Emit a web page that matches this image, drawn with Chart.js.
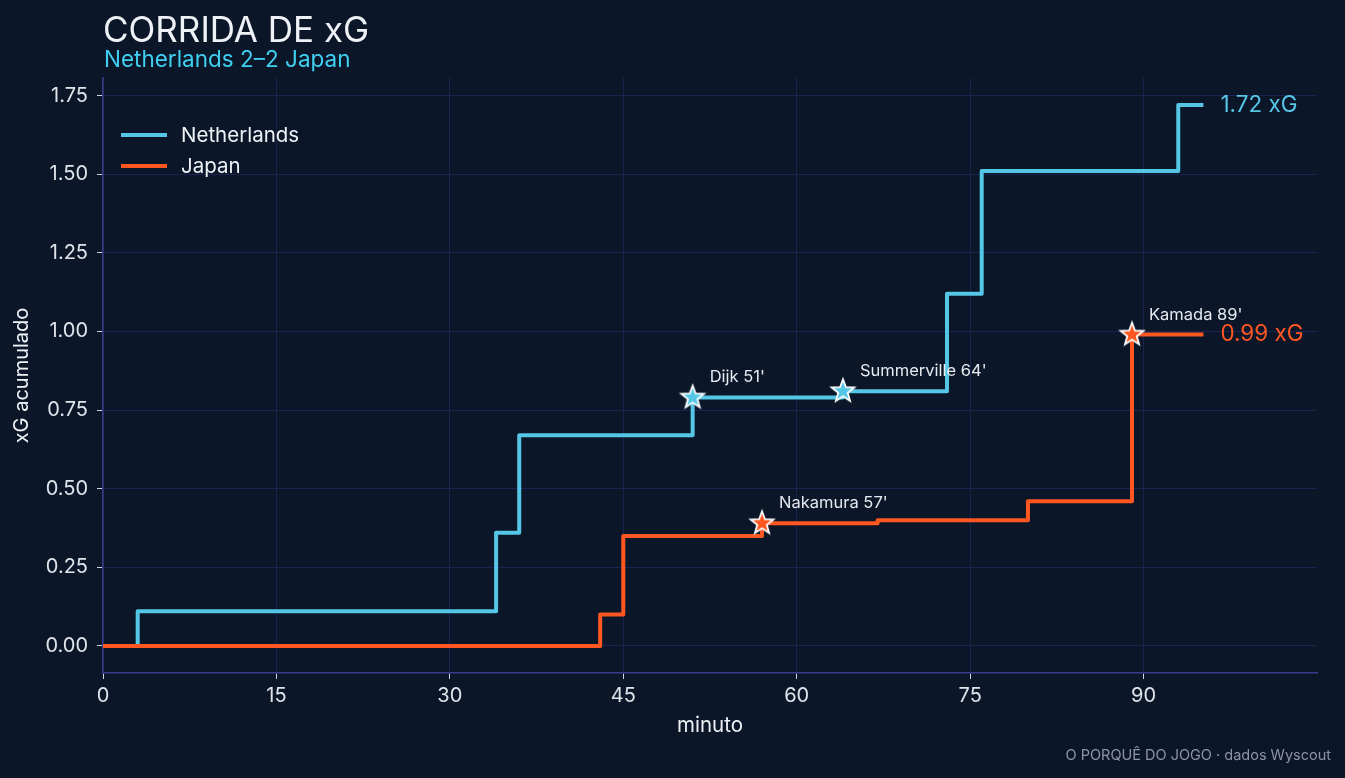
<!DOCTYPE html>
<html>
<head>
<meta charset="utf-8">
<title>Corrida de xG</title>
<script src="https://cdn.jsdelivr.net/npm/chart.js@4.4.1/dist/chart.umd.min.js"></script>
<style>
  html, body { margin: 0; padding: 0; background: #0b1628; }
  canvas { display: block; }
</style>
</head>
<body>
<canvas id="xgChart" width="1345" height="778"></canvas>
<script>
// dados do jogo
var minutosNL = [0, 3, 34, 36, 51, 64, 73, 76, 93, 95];
var xgNL = [0, 0.11, 0.36, 0.67, 0.79, 0.81, 1.12, 1.51, 1.72, 1.72];
var minutosJP = [0, 43, 45, 57, 67, 80, 89, 95];
var xgJP = [0, 0.10, 0.35, 0.39, 0.40, 0.46, 0.99, 0.99];

// golos
var golosNLmin = [51, 64];
var golosNLxg = [0.79, 0.81];
var golosNLnome = ["Dijk 51'", "Summerville 64'"];
var golosJPmin = [57, 89];
var golosJPxg = [0.39, 0.99];
var golosJPnome = ["Nakamura 57'", "Kamada 89'"];

var xTicks = [0, 15, 30, 45, 60, 75, 90];
var yTicks = [0, 0.25, 0.5, 0.75, 1.0, 1.25, 1.5, 1.75];

var AZUL = '#55c6e6';
var LARANJA = '#ff5722';
var FONTE = 'Inter, "Noto Sans", sans-serif';

function pontos(xs, ys) {
  return xs.map(function (x, i) { return { x: x, y: ys[i] }; });
}

// estrela preenchida para os golos
function estrela(cor) {
  var c = document.createElement('canvas');
  c.width = 30; c.height = 30;
  var g = c.getContext('2d');
  g.beginPath();
  for (var i = 0; i < 10; i++) {
    var r = i % 2 === 0 ? 12 : 5;
    var a = -Math.PI / 2 + i * Math.PI / 5;
    g.lineTo(15 + r * Math.cos(a), 15 + r * Math.sin(a));
  }
  g.closePath();
  g.fillStyle = cor;
  g.fill();
  g.lineWidth = 1.8;
  g.strokeStyle = '#ffffff';
  g.stroke();
  return c;
}

var textos = {
  id: 'textos',
  beforeDraw: function (chart) {
    var ctx = chart.ctx;
    ctx.save();
    ctx.fillStyle = '#0b1628';
    ctx.fillRect(0, 0, chart.width, chart.height);
    ctx.restore();
  },
  afterDraw: function (chart) {
    var ctx = chart.ctx;
    var sx = chart.scales.x, sy = chart.scales.y;
    ctx.save();
    // titulo
    ctx.textBaseline = 'alphabetic';
    ctx.textAlign = 'left';
    ctx.fillStyle = '#eef1f6';
    ctx.font = '35px ' + FONTE;
    ctx.fillText('CORRIDA DE xG', 103, 42);
    ctx.fillStyle = '#3fd0f2';
    ctx.font = '22.5px ' + FONTE;
    ctx.fillText('Netherlands 2\u20132 Japan', 104, 67);

    // legenda
    ctx.lineWidth = 4;
    ctx.strokeStyle = AZUL;
    ctx.beginPath(); ctx.moveTo(121, 135); ctx.lineTo(167, 135); ctx.stroke();
    ctx.strokeStyle = LARANJA;
    ctx.beginPath(); ctx.moveTo(121, 166); ctx.lineTo(167, 166); ctx.stroke();
    ctx.fillStyle = '#eef1f6';
    ctx.font = '20.5px ' + FONTE;
    ctx.textBaseline = 'middle';
    ctx.fillText('Netherlands', 181, 136);
    ctx.fillText('Japan', 181, 167);

    // nomes dos marcadores
    ctx.font = '16.5px ' + FONTE;
    ctx.fillStyle = '#e6e9ef';
    golosNLmin.forEach(function (m, i) {
      ctx.fillText(golosNLnome[i], sx.getPixelForValue(m) + 17, sy.getPixelForValue(golosNLxg[i]) - 20);
    });
    golosJPmin.forEach(function (m, i) {
      ctx.fillText(golosJPnome[i], sx.getPixelForValue(m) + 17, sy.getPixelForValue(golosJPxg[i]) - 20);
    });

    // valores finais
    ctx.font = '22.5px ' + FONTE;
    var ultNL = minutosNL.length - 1, ultJP = minutosJP.length - 1;
    ctx.fillStyle = AZUL;
    ctx.fillText(xgNL[ultNL].toFixed(2) + ' xG', sx.getPixelForValue(minutosNL[ultNL]) + 19, sy.getPixelForValue(xgNL[ultNL]));
    ctx.fillStyle = LARANJA;
    ctx.fillText(xgJP[ultJP].toFixed(2) + ' xG', sx.getPixelForValue(minutosJP[ultJP]) + 19, sy.getPixelForValue(xgJP[ultJP]));

    // rodape
    ctx.font = '14.5px ' + FONTE;
    ctx.fillStyle = '#8c94a6';
    ctx.textAlign = 'right';
    ctx.fillText('O PORQU\u00ca DO JOGO \u00b7 dados Wyscout', 1331, 756);
    ctx.restore();
  }
};

var ctx = document.getElementById('xgChart').getContext('2d');
var grafico = new Chart(ctx, {
  type: 'line',
  data: {
    datasets: [
      {
        label: 'Golos Netherlands',
        data: pontos(golosNLmin, golosNLxg),
        showLine: false,
        pointStyle: estrela(AZUL),
        order: 0
      },
      {
        label: 'Golos Japan',
        data: pontos(golosJPmin, golosJPxg),
        showLine: false,
        pointStyle: estrela(LARANJA),
        order: 0
      },
      {
        label: 'Japan',
        data: pontos(minutosJP, xgJP),
        stepped: 'before',
        borderColor: LARANJA,
        borderWidth: 4,
        borderJoinStyle: 'round',
        borderCapStyle: 'square',
        pointRadius: 0,
        fill: false,
        order: 1
      },
      {
        label: 'Netherlands',
        data: pontos(minutosNL, xgNL),
        stepped: 'before',
        borderColor: AZUL,
        borderWidth: 4,
        borderJoinStyle: 'round',
        borderCapStyle: 'square',
        pointRadius: 0,
        fill: false,
        order: 2
      }
    ]
  },
  options: {
    responsive: false,
    animation: false,
    layout: { padding: { top: 78, right: 28, left: 0, bottom: 0 } },
    plugins: {
      legend: { display: false },
      tooltip: { enabled: false },
      title: { display: false }
    },
    scales: {
      x: {
        type: 'linear',
        min: 0,
        max: 105,
        afterBuildTicks: function (s) { s.ticks = xTicks.map(function (v) { return { value: v }; }); },
        afterFit: function (s) { s.height = 105; },
        ticks: {
          color: '#dfe3ea',
          font: { family: FONTE, size: 20 },
          padding: 5,
          maxRotation: 0
        },
        grid: { color: '#1b2350', lineWidth: 1, tickColor: '#cfd4de', tickLength: 6 },
        border: { color: '#363c8a', width: 1.5 },
        title: {
          display: true,
          text: 'minuto',
          color: '#eef1f6',
          font: { family: FONTE, size: 20.5 },
          padding: { top: 0, bottom: 40 }
        }
      },
      y: {
        type: 'linear',
        min: -0.086,
        max: 1.806,
        afterBuildTicks: function (s) { s.ticks = yTicks.map(function (v) { return { value: v }; }); },
        afterFit: function (s) { s.width = 103; },
        ticks: {
          color: '#dfe3ea',
          font: { family: FONTE, size: 20 },
          padding: 9,
          callback: function (v) { return Number(v).toFixed(2); }
        },
        grid: { color: '#1b2350', lineWidth: 1, tickColor: '#cfd4de', tickLength: 6 },
        border: { color: '#363c8a', width: 1.5 },
        title: {
          display: true,
          text: 'xG acumulado',
          color: '#eef1f6',
          font: { family: FONTE, size: 20 },
          padding: { top: 10, bottom: 0 }
        }
      }
    }
  },
  plugins: [textos]
});
</script>
</body>
</html>
